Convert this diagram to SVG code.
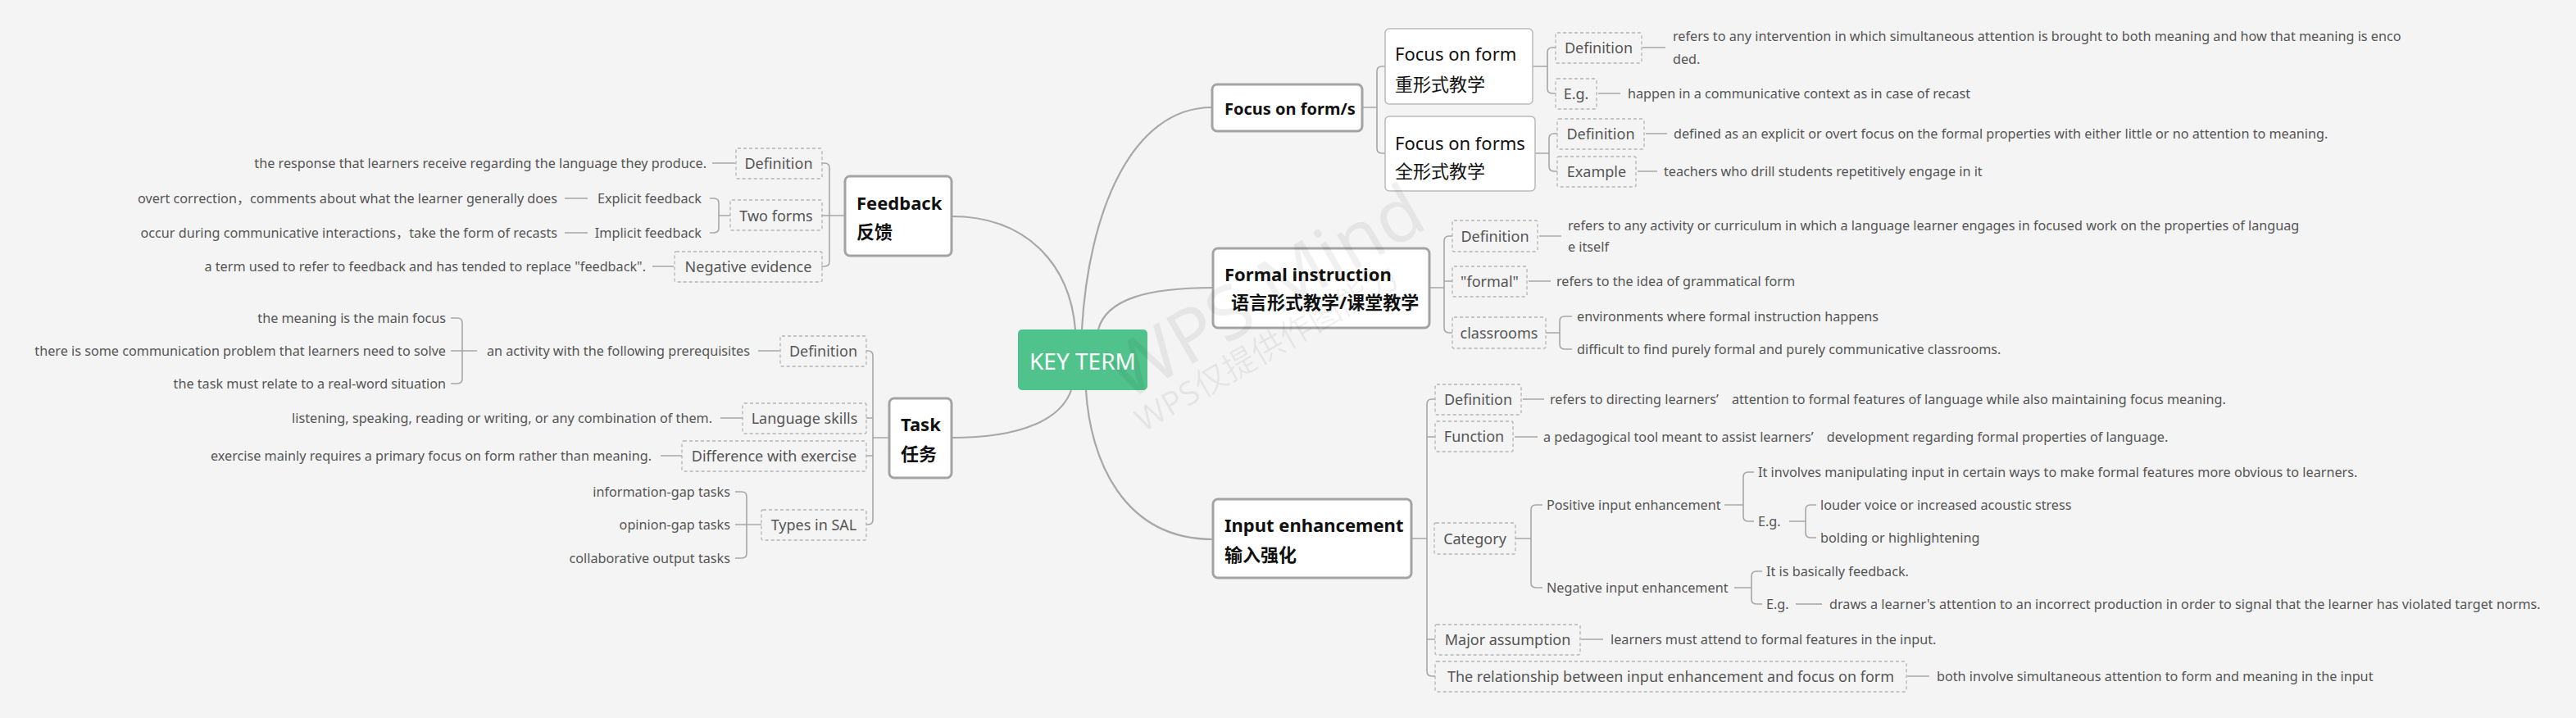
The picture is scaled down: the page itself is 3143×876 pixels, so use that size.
<svg xmlns="http://www.w3.org/2000/svg" width="3143" height="876" viewBox="0 0 3143 876">
<style>
text{font-family:'Noto Sans','Noto Sans CJK SC',sans-serif}
.main{fill:#fff;stroke:#a3a3a3;stroke-width:3}
.sub{fill:#fff;stroke:#b9b9b9;stroke-width:1.5}
.dash{fill:none;stroke:#b4b4b4;stroke-width:1.3;stroke-dasharray:4 3}
.curve{fill:none;stroke:#a8a8a8;stroke-width:2.2}
.br{fill:none;stroke:#a6a6a6;stroke-width:1.6}
.t{font-size:16.2px;fill:#555}
.tl{font-size:18px;fill:#555;text-anchor:middle}
.e{text-anchor:end}
.tb{font-size:22px;font-weight:bold;fill:#111}
.tr{font-size:22px;fill:#111}
.wm{fill:#000;fill-opacity:0.06}
</style>
<rect width="3143" height="876" fill="#f4f4f4"/>

<g id="connectors">
<path class="curve" d="M1161,264 C1250,264 1305,320 1312,402"/>
<path class="curve" d="M1479,131 C1380,131 1328,260 1320,402"/>
<path class="curve" d="M1480,351 C1400,351 1350,365 1340,402"/>
<path class="curve" d="M1161,534 C1250,534 1295,510 1307,476"/>
<path class="curve" d="M1480,658 C1370,658 1330,560 1325,476"/>
<path class="br" stroke-width="2" d="M1662,131 H1680 M1690,81 H1686 Q1680,81 1680,87 V181 Q1680,187 1686,187 H1690"/>
<path class="br" d="M1870,81 H1888 M1898,58 H1894 Q1888,58 1888,64 V108 Q1888,114 1894,114 H1898"/>
<path class="br" d="M1873,187 H1890 M1900,163 H1896 Q1890,163 1890,169 V203 Q1890,209 1896,209 H1900"/>
<path class="br" d="M1744,351 H1762 M1772,288 H1768 Q1762,288 1762,294 V400 Q1762,406 1768,406 H1772 M1762,343 H1772"/>
<path class="br" d="M1886,406 H1903 M1918,386 H1909 Q1903,386 1903,392 V420 Q1903,426 1909,426 H1918"/>
<path class="br" d="M1722,657 H1741 M1751,487 H1747 Q1741,487 1741,493 V819 Q1741,825 1747,825 H1751 M1741,533 H1751 M1741,780 H1751"/>
<path class="br" d="M1849,657 H1868 M1882,616 H1874 Q1868,616 1868,622 V711 Q1868,717 1874,717 H1882"/>
<path class="br" d="M2104,616 H2127 M2140,576 H2133 Q2127,576 2127,582 V630 Q2127,636 2133,636 H2140"/>
<path class="br" d="M2183,636 H2203 M2216,616 H2209 Q2203,616 2203,622 V650 Q2203,656 2209,656 H2216"/>
<path class="br" d="M2116,717 H2137 M2150,697 H2143 Q2137,697 2137,703 V731 Q2137,737 2143,737 H2150"/>
<path class="br" d="M2191,737 H2223"/>
<path class="br" d="M1858,487 H1884 M1848,533 H1876 M1929,780 H1956 M2327,825 H2354"/>
<path class="br" d="M1878,288 H1905 M1865,343 H1892"/>
<path class="br" d="M2004,58 H2032 M1950,114 H1977 M2008,163 H2034 M1998,209 H2022"/>
<path class="br" stroke-width="2" d="M1031,263 H1012 M1002,199 H1006 Q1012,199 1012,205 V319 Q1012,325 1006,325 H1002 M1012,263 H1002"/>
<path class="br" d="M891,263 H877 M866,242 H871 Q877,242 877,248 V278 Q877,284 871,284 H866"/>
<path class="br" d="M869,199 H897 M689,242 H717 M689,284 H717 M796,325 H822"/>
<path class="br" stroke-width="2" d="M1085,534 H1065 M1057,428 H1059 Q1065,428 1065,434 V634 Q1065,640 1059,640 H1057 M1065,510 H1057 M1065,556 H1057"/>
<path class="br" d="M925,428 H951 M582,428 H564 M550,388 H558 Q564,388 564,394 V462 Q564,468 558,468 H550 M564,428 H550"/>
<path class="br" d="M879,510 H906 M806,556 H832"/>
<path class="br" d="M929,640 H911 M897,600 H905 Q911,600 911,606 V675 Q911,681 905,681 H897 M911,640 H897"/>
</g>

<g id="key-term">
<rect x="1242" y="402" width="158" height="74" rx="5" fill="#50c38c"/>
<text x="1321" y="451" font-size="28" fill="#fff" text-anchor="middle">KEY TERM</text>
</g>

<g id="feedback">
<rect class="main" x="1031" y="215" width="130" height="97" rx="6"/>
<text class="tb" x="1045" y="256">Feedback</text>
<text class="tb" x="1045" y="291">反馈</text>
<rect class="dash" x="898" y="181" width="105" height="37" rx="2"/>
<text class="tl" x="950" y="205.5">Definition</text>
<text class="t e" x="862" y="205">the response that learners receive regarding the language they produce.</text>
<rect class="dash" x="891" y="244" width="112" height="37" rx="2"/>
<text class="tl" x="947" y="269.5">Two forms</text>
<text class="t e" x="856" y="248">Explicit feedback</text>
<text class="t e" x="856" y="290">Implicit feedback</text>
<text class="t e" x="680" y="248">overt correction，comments about what the learner generally does</text>
<text class="t e" x="680" y="290">occur during communicative interactions，take the form of recasts</text>
<rect class="dash" x="823" y="307" width="180" height="37" rx="2"/>
<text class="tl" x="913" y="331.5">Negative evidence</text>
<text class="t e" x="788" y="331">a term used to refer to feedback and has tended to replace "feedback".</text>
</g>

<g id="task">
<rect class="main" x="1085" y="486" width="76" height="97" rx="6"/>
<text class="tb" x="1099" y="526">Task</text>
<text class="tb" x="1099" y="562">任务</text>
<rect class="dash" x="952" y="410" width="105" height="37" rx="2"/>
<text class="tl" x="1004.5" y="434.5">Definition</text>
<text class="t e" x="915" y="434">an activity with the following prerequisites</text>
<text class="t e" x="544" y="394">the meaning is the main focus</text>
<text class="t e" x="544" y="434">there is some communication problem that learners need to solve</text>
<text class="t e" x="544" y="474">the task must relate to a real-word situation</text>
<rect class="dash" x="906" y="492" width="151" height="37" rx="2"/>
<text class="tl" x="981.5" y="516.5">Language skills</text>
<text class="t e" x="869" y="516">listening, speaking, reading or writing, or any combination of them.</text>
<rect class="dash" x="832" y="538" width="225" height="37" rx="2"/>
<text class="tl" x="944.5" y="562.5">Difference with exercise</text>
<text class="t e" x="795" y="562">exercise mainly requires a primary focus on form rather than meaning.</text>
<rect class="dash" x="929" y="622" width="128" height="37" rx="2"/>
<text class="tl" x="993" y="646.5">Types in SAL</text>
<text class="t e" x="891" y="606">information-gap tasks</text>
<text class="t e" x="891" y="646">opinion-gap tasks</text>
<text class="t e" x="891" y="687">collaborative output tasks</text>
</g>

<g id="focus-on-forms-root">
<rect class="main" x="1479" y="103" width="183" height="57" rx="6"/>
<text class="tb" x="1494" y="140" style="font-size:20px">Focus on form/s</text>
</g>

<g id="focus-on-form">
<rect class="sub" x="1690" y="35" width="180" height="92" rx="5"/>
<text class="tr" x="1702" y="74">Focus on form</text>
<text class="tr" x="1702" y="111">重形式教学</text>
<rect class="dash" x="1898" y="40" width="105" height="37" rx="2"/>
<text class="tl" x="1950.5" y="64.5">Definition</text>
<text class="t" x="2041" y="50">refers to any intervention in which simultaneous attention is brought to both meaning and how that meaning is enco</text>
<text class="t" x="2041" y="78">ded.</text>
<rect class="dash" x="1898" y="96" width="50" height="37" rx="2"/>
<text class="tl" x="1923" y="120.5">E.g.</text>
<text class="t" x="1986" y="120">happen in a communicative context as in case of recast</text>
</g>

<g id="focus-on-forms">
<rect class="sub" x="1690" y="142" width="183" height="91" rx="5"/>
<text class="tr" x="1702" y="183">Focus on forms</text>
<text class="tr" x="1702" y="217">全形式教学</text>
<rect class="dash" x="1900" y="145" width="106" height="37" rx="2"/>
<text class="tl" x="1953" y="169.5">Definition</text>
<text class="t" x="2042" y="169">defined as an explicit or overt focus on the formal properties with either little or no attention to meaning.</text>
<rect class="dash" x="1900" y="191" width="96" height="37" rx="2"/>
<text class="tl" x="1948" y="215.5">Example</text>
<text class="t" x="2030" y="215">teachers who drill students repetitively engage in it</text>
</g>

<g id="formal-instruction">
<rect class="main" x="1480" y="303" width="264" height="97" rx="6"/>
<text class="tb" x="1494" y="343">Formal instruction</text>
<text class="tb" x="1502" y="377">语言形式教学/课堂教学</text>
<rect class="dash" x="1772" y="269" width="104" height="38" rx="2"/>
<text class="tl" x="1824" y="294.5">Definition</text>
<text class="t" x="1913" y="281">refers to any activity or curriculum in which a language learner engages in focused work on the properties of languag</text>
<text class="t" x="1913" y="307">e itself</text>
<rect class="dash" x="1772" y="325" width="91" height="37" rx="2"/>
<text class="tl" x="1817.5" y="349.5">"formal"</text>
<text class="t" x="1899" y="349">refers to the idea of grammatical form</text>
<rect class="dash" x="1772" y="387" width="114" height="38" rx="2"/>
<text class="tl" x="1829" y="412.5">classrooms</text>
<text class="t" x="1924" y="392">environments where formal instruction happens</text>
<text class="t" x="1924" y="432">difficult to find purely formal and purely communicative classrooms.</text>
</g>

<g id="input-enhancement">
<rect class="main" x="1480" y="609" width="242" height="96" rx="6"/>
<text class="tb" x="1494" y="649">Input enhancement</text>
<text class="tb" x="1494" y="685">输入强化</text>
<rect class="dash" x="1751" y="469" width="105" height="37" rx="2"/>
<text class="tl" x="1803.5" y="493.5">Definition</text>
<text class="t" x="1891" y="493">refers to directing learners’　attention to formal features of language while also maintaining focus meaning.</text>
<rect class="dash" x="1751" y="514" width="95" height="37" rx="2"/>
<text class="tl" x="1798.5" y="538.5">Function</text>
<text class="t" x="1883" y="539">a pedagogical tool meant to assist learners’　development regarding formal properties of language.</text>
<rect class="dash" x="1750" y="638" width="99" height="38" rx="2"/>
<text class="tl" x="1799.5" y="663.5">Category</text>
<text class="t" x="1887" y="622">Positive input enhancement</text>
<text class="t" x="2145" y="582">It involves manipulating input in certain ways to make formal features more obvious to learners.</text>
<text class="t" x="2145" y="642">E.g.</text>
<text class="t" x="2221" y="622">louder voice or increased acoustic stress</text>
<text class="t" x="2221" y="662">bolding or highlightening</text>
<text class="t" x="1887" y="723">Negative input enhancement</text>
<text class="t" x="2155" y="703">It is basically feedback.</text>
<text class="t" x="2155" y="743">E.g.</text>
<text class="t" x="2232" y="743">draws a learner's attention to an incorrect production in order to signal that the learner has violated target norms.</text>
<rect class="dash" x="1751" y="762" width="177" height="37" rx="2"/>
<text class="tl" x="1839.5" y="786.5">Major assumption</text>
<text class="t" x="1965" y="786">learners must attend to formal features in the input.</text>
<rect class="dash" x="1751" y="807" width="575" height="37" rx="2"/>
<text class="tl" x="2038.5" y="831.5">The relationship between input enhancement and focus on form</text>
<text class="t" x="2363" y="831">both involve simultaneous attention to form and meaning in the input</text>
</g>

<g id="watermark">
<text class="wm" x="1375" y="490" font-size="90" transform="rotate(-30 1375 490)">WPS Mind</text>
<text class="wm" x="1395" y="528" font-size="40" transform="rotate(-30 1395 528)">WPS仅提供作图能力</text>
</g>
</svg>
